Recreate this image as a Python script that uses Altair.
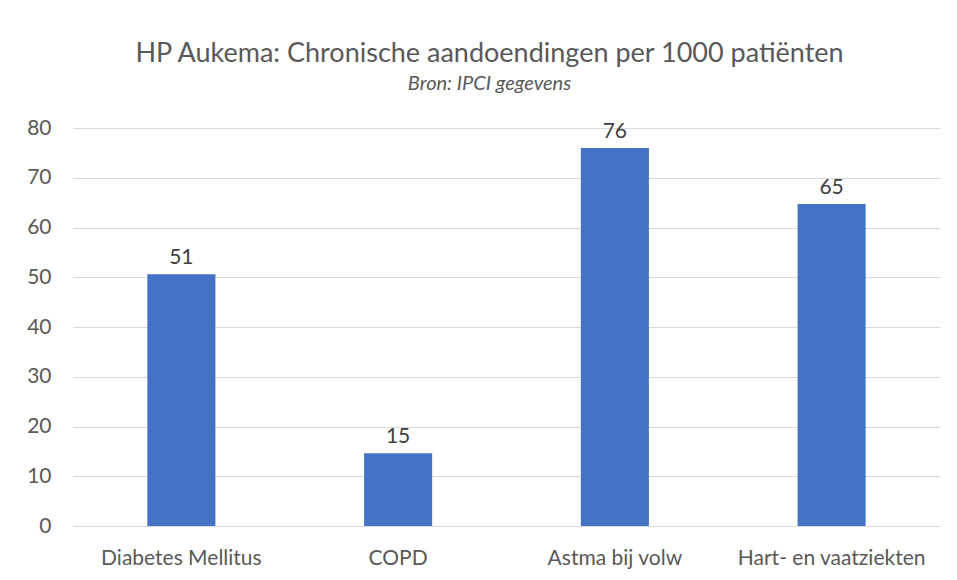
import altair as alt
import pandas as pd

categories = ["Diabetes Mellitus", "COPD", "Astma bij volw", "Hart- en vaatziekten"]
values = [50.6, 14.6, 76.0, 64.7]

df = pd.DataFrame({"cat": categories, "val": values})

FONT = "Lato"
GREY = "#595959"

base = alt.Chart(df).encode(
    x=alt.X("cat:N", sort=categories, title=None,
            scale=alt.Scale(paddingInner=0.686, paddingOuter=0.343),
            axis=alt.Axis(labelAngle=0, labelFontSize=21, labelColor=GREY, labelFont=FONT,
                          ticks=False, domainColor="#D9D9D9", labelPadding=21, grid=False,
                          labelLimit=0)),
    y=alt.Y("val:Q", title=None,
            scale=alt.Scale(domain=[0, 80], nice=False),
            axis=alt.Axis(values=list(range(0, 81, 10)), labelFontSize=21, labelColor=GREY,
                          labelFont=FONT, ticks=False, domain=False, gridColor="#D9D9D9",
                          labelPadding=22)),
)

bars = base.mark_bar(color="#4472C4")
text = base.mark_text(dy=-6, fontSize=21, font=FONT, color="#404040", baseline="bottom").encode(
    text=alt.Text("val:Q", format=".0f"))

chart = (bars + text).properties(
    width=867, height=398,
    autosize=alt.AutoSizeParams(type="none"),
    padding={"left": 65, "top": 120, "right": 9, "bottom": 46},
    title=alt.TitleParams(
        text="HP Aukema: Chronische aandoendingen per 1000 patiënten",
        subtitle="Bron: IPCI gegevens",
        anchor="middle", dx=-17, offset=22,
        font=FONT, fontSize=27, fontWeight="normal", color=GREY,
        subtitleFont=FONT, subtitleFontSize=20, subtitleFontStyle="italic",
        subtitleColor=GREY, subtitlePadding=6,
    ),
).configure_view(stroke=None)

chart.save("out.html", embed_options={"renderer": "svg", "actions": False})
